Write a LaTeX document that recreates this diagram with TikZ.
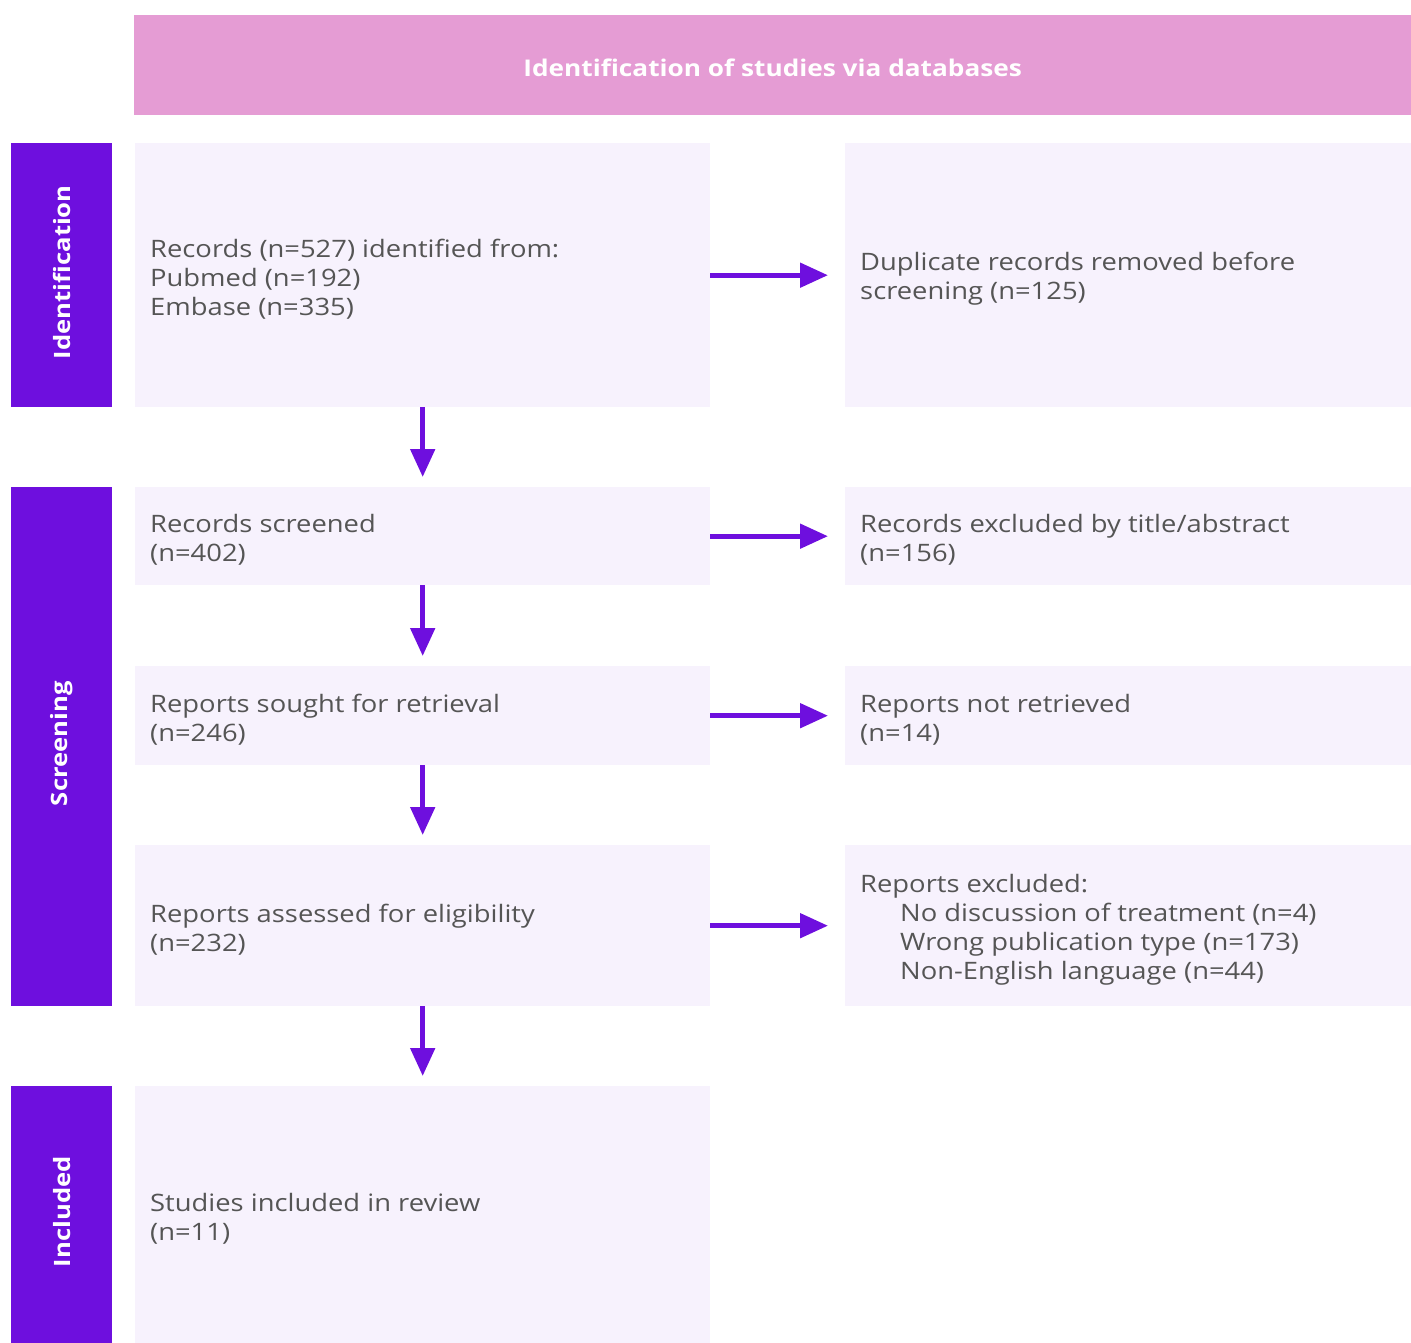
\documentclass[tikz,border=0pt]{standalone}
\usepackage{fontspec}
\setmainfont[FakeStretch=1.14]{Open Sans}
\usetikzlibrary{arrows.meta}
\definecolor{hdr}{HTML}{E59CD4}
\definecolor{purp}{HTML}{6E0FDE}
\definecolor{boxfill}{HTML}{F7F2FD}
\definecolor{txt}{HTML}{555555}
\begin{document}
\begin{tikzpicture}[x=1pt,y=-1pt,
  box/.style={fill=boxfill, draw=none, anchor=north west, inner sep=0pt},
  btxt/.style={anchor=west, inner sep=0pt, align=left, text=txt, font=\fontsize{24}{29}\selectfont, xshift=15pt, yshift=-4pt},
  side/.style={fill=purp, draw=none, anchor=north west, inner sep=0pt},
  sidelbl/.style={text=white, rotate=90, font=\fontsize{22.5}{27}\selectfont\bfseries, xshift=3pt},
  flow/.style={draw=purp, line width=5pt, -{Triangle[length=28pt,width=24pt]}}
]
\useasboundingbox (0,0) rectangle (1411,1343);
% header
\node[fill=hdr, anchor=north west, minimum width=1277pt, minimum height=100pt, inner sep=0pt] (hdr) at (134,15) {};
\node[text=white, font=\fontsize{23}{26}\selectfont\bfseries, yshift=-3pt] (hdrt) at (hdr.center) {Identification of studies via databases};
% side bars
\node[side, minimum width=101pt, minimum height=264pt] (sid) at (11,143) {};
\node[sidelbl] (sidt) at (sid.center) {Identification};
\node[side, minimum width=101pt, minimum height=519pt] (ssc) at (11,487) {};
\node[sidelbl] (ssct) at (ssc.center) {Screening};
\node[side, minimum width=101pt, minimum height=257pt] (sin) at (11,1086) {};
\node[sidelbl] (sint) at (sin.center) {Included};
% left boxes
\node[box, minimum width=575pt, minimum height=264pt] (l1) at (135,143) {};
\node[box, minimum width=575pt, minimum height=98pt] (l2) at (135,487) {};
\node[box, minimum width=575pt, minimum height=99pt] (l3) at (135,666) {};
\node[box, minimum width=575pt, minimum height=161pt] (l4) at (135,845) {};
\node[box, minimum width=575pt, minimum height=257pt] (l5) at (135,1086) {};
\node[btxt] (t1) at (l1.west) {Records (n=527) identified from:\\Pubmed (n=192)\\Embase (n=335)};
\node[btxt] (t2) at (l2.west) {Records screened\\(n=402)};
\node[btxt] (t3) at (l3.west) {Reports sought for retrieval\\(n=246)};
\node[btxt] (t4) at (l4.west) {Reports assessed for eligibility\\(n=232)};
\node[btxt] (t5) at (l5.west) {Studies included in review\\(n=11)};
% right boxes
\node[box, minimum width=566pt, minimum height=264pt] (r1) at (845,143) {};
\node[box, minimum width=566pt, minimum height=98pt] (r2) at (845,487) {};
\node[box, minimum width=566pt, minimum height=99pt] (r3) at (845,666) {};
\node[box, minimum width=566pt, minimum height=161pt] (r4) at (845,845) {};
\node[btxt] (u1) at (r1.west) {Duplicate records removed before\\screening (n=125)};
\node[btxt] (u2) at (r2.west) {Records excluded by title/abstract\\(n=156)};
\node[btxt] (u3) at (r3.west) {Reports not retrieved\\(n=14)};
\node[btxt] (u4) at (r4.west) {Reports excluded:\\\hspace*{40pt}No discussion of treatment (n=4)\\\hspace*{40pt}Wrong publication type (n=173)\\\hspace*{40pt}Non-English language (n=44)};
% arrows
\foreach \a/\b in {l1/r1,l2/r2,l3/r3,l4/r4}
  \draw[flow, shorten >=17pt] (\a.east) -- (\b.west);
\foreach \a/\b in {l1/l2,l2/l3,l3/l4,l4/l5}
  \draw[flow, shorten >=10pt] (\a.south) -- (\b.north);
\end{tikzpicture}
\end{document}
